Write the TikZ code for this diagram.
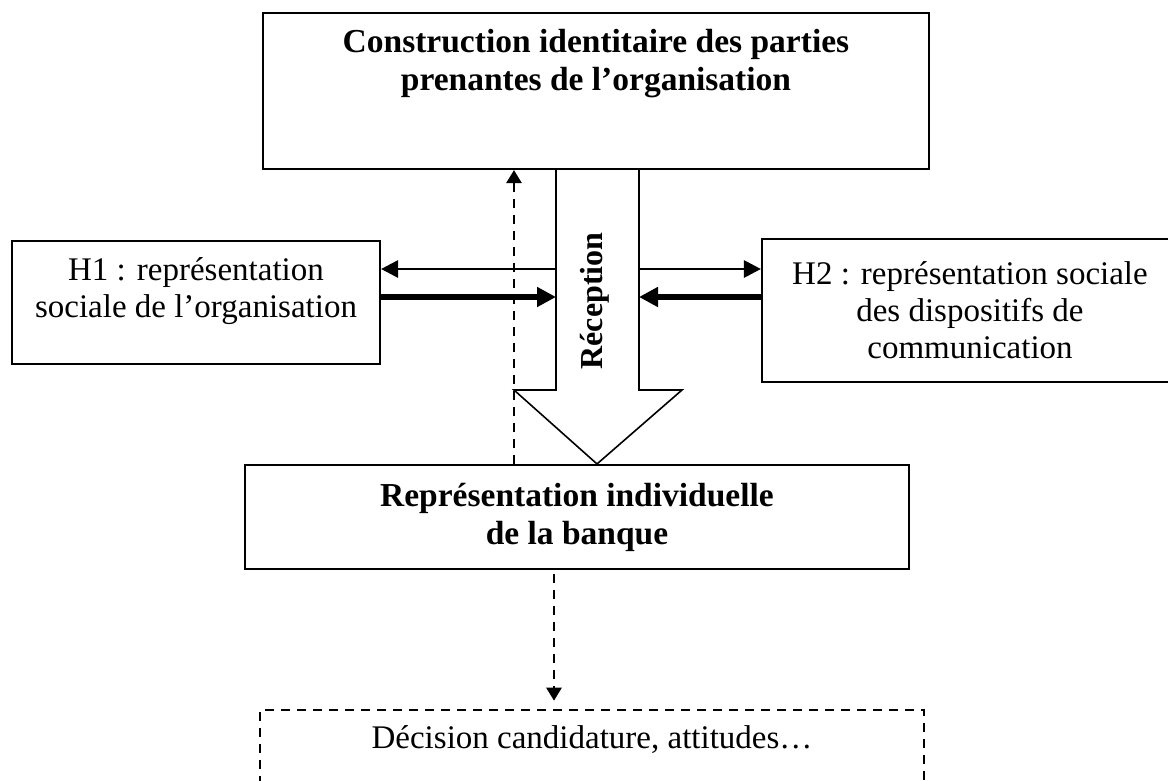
\documentclass[tikz,border=0pt]{standalone}
\usepackage{fontspec}
\setmainfont{Liberation Serif}
\usetikzlibrary{arrows.meta}
\begin{document}
\begin{tikzpicture}[x=1pt,y=-1pt]
\tikzset{
  frame/.style={draw, line width=2.1pt, rectangle, inner sep=0pt, fill=white},
  dashframe/.style={draw, line width=2.6pt, rectangle, inner sep=0pt, dash pattern=on 9pt off 7pt},
  txt/.style={font=\fontsize{33}{37}\selectfont, align=center, inner sep=0pt},
  btxt/.style={align=center, inner sep=0pt, font=\fontsize{33.5}{38}\selectfont\bfseries},
  thinarrow/.style={line width=2.9pt, -{Triangle[length=17pt,width=17pt]}},
  thickarrow/.style={line width=6pt, -{Triangle[length=19pt,width=19pt]}},
  dasharrow/.style={line width=2.6pt, dash pattern=on 9pt off 7pt, -{Triangle[length=13pt,width=15pt]}},
  bigarrow/.style={draw, line width=1.6pt, fill=white, line join=miter},
}
\useasboundingbox (0,0) rectangle (1168,780);
\clip (0,0) rectangle (1168,780);

% boxes
\node[frame, minimum width=666pt, minimum height=156pt] (top) at (596,91) {};
\node[btxt] (toptxt) at (596,64) {Construction identitaire des parties\\prenantes de l’organisation};

\node[frame, minimum width=368pt, minimum height=123pt] (h1) at (196,302.5) {};
\node[txt] (h1txt) at (196,291) {H1 : représentation\\sociale de l’organisation};

\node[frame, minimum width=416pt, minimum height=143pt] (h2) at (970,310.5) {};
\node[txt] (h2txt) at (970,310) {H2 : représentation sociale\\des dispositifs de\\communication};

\node[frame, minimum width=664pt, minimum height=104pt] (rep) at (577,517) {};
\node[btxt] (reptxt) at (577,517) {Représentation individuelle\\de la banque};

\node[dashframe, minimum width=664pt, minimum height=110pt] (dec) at (592,765) {};
\node[txt] (dectxt) at (592,740) {Décision candidature, attitudes…};

% reception arrow, hanging from the top box onto the individual representation
\coordinate (sl) at (556,0);
\coordinate (sr) at (639,0);
\draw[bigarrow] (top.south -| sl) -- (556,390) -- (514,390) -- (rep.north -| 597,0)
  -- (682,390) -- (639,390) -- (top.south -| sr);
\node[btxt, rotate=90, font=\fontsize{32}{36}\selectfont\bfseries] (recep) at (595,301) {Réception};

% feedback from the individual representation to the identity construction
\coordinate (dx) at (514,0);
\draw[dasharrow] (rep.north -| dx) -- (top.south -| dx);

% exchanges between the reception flow and the two social representations
\coordinate (ya) at (0,269);
\coordinate (yb) at (0,297);
\draw[thinarrow] (sl |- ya) -- (h1.east |- ya);
\draw[thickarrow] (h1.east |- yb) -- (sl |- yb);
\draw[thinarrow] (sr |- ya) -- (h2.west |- ya);
\draw[thickarrow] (h2.west |- yb) -- (sr |- yb);

% towards the behavioural outcome
\coordinate (dd) at (554,0);
\draw[dasharrow, shorten <=4pt, shorten >=8pt] (rep.south -| dd) -- (dec.north -| dd);
\end{tikzpicture}
\end{document}
